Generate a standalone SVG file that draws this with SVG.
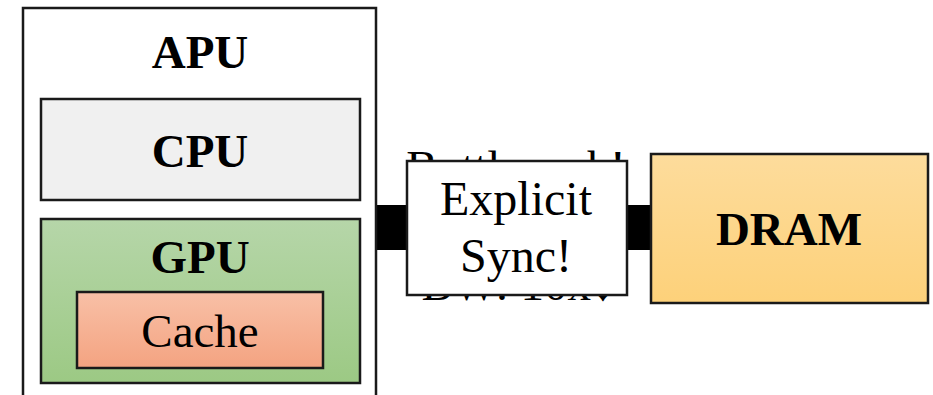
<svg xmlns="http://www.w3.org/2000/svg" width="933" height="395" viewBox="0 0 933 395">
  <style>
    .box { stroke: #1a1a1a; stroke-width: 2.5; }
    .lbl { font-family: "Liberation Serif", "Times New Roman", serif; font-size: 47px; fill: #000; text-anchor: middle; }
    .b { font-weight: bold; }
  </style>
  <defs>
    <linearGradient id="gpuFill" x1="0" y1="0" x2="0" y2="1">
      <stop offset="0" stop-color="#b6d6a9"/>
      <stop offset="1" stop-color="#9cc984"/>
    </linearGradient>
    <linearGradient id="cacheFill" x1="0" y1="0" x2="0" y2="1">
      <stop offset="0" stop-color="#f8c0a7"/>
      <stop offset="1" stop-color="#f4a381"/>
    </linearGradient>
    <linearGradient id="dramFill" x1="0" y1="0" x2="0" y2="1">
      <stop offset="0" stop-color="#fddc9c"/>
      <stop offset="1" stop-color="#fdd17a"/>
    </linearGradient>
  </defs>
  <rect width="933" height="395" fill="#fff"/>

  <!-- memory bus -->
  <g id="connectors">
    <rect x="377" y="205" width="275" height="45" fill="#000"/>
  </g>

  <!-- bus annotation, partly covered by the sync label -->
  <g id="bus-note">
    <text class="lbl" x="516" y="183">Bottleneck!</text>
    <text class="lbl" x="518" y="300">BW: 10x↓</text>
  </g>

  <g id="apu">
    <path class="box" d="M23,400 V8 H376 V400" fill="#fff"/>
    <text class="lbl b" x="200" y="68">APU</text>
  </g>

  <g id="cpu">
    <rect class="box" x="41" y="99" width="319" height="101" fill="#f0f0f0"/>
    <text class="lbl b" x="200" y="167">CPU</text>
  </g>

  <g id="gpu">
    <rect class="box" x="41" y="219" width="319" height="164" fill="url(#gpuFill)"/>
    <text class="lbl b" x="200" y="273">GPU</text>
  </g>

  <g id="cache">
    <rect class="box" x="77" y="292" width="246" height="76" fill="url(#cacheFill)"/>
    <text class="lbl" x="200" y="347">Cache</text>
  </g>

  <g id="sync">
    <rect class="box" x="407" y="161" width="220" height="134" fill="#fff"/>
    <text class="lbl" x="516" y="215" style="font-size:48px">Explicit</text>
    <text class="lbl" x="516" y="272" style="font-size:48px">Sync!</text>
  </g>

  <g id="dram">
    <rect class="box" x="651" y="154" width="277" height="149" fill="url(#dramFill)"/>
    <text class="lbl b" x="789" y="245">DRAM</text>
  </g>
</svg>
